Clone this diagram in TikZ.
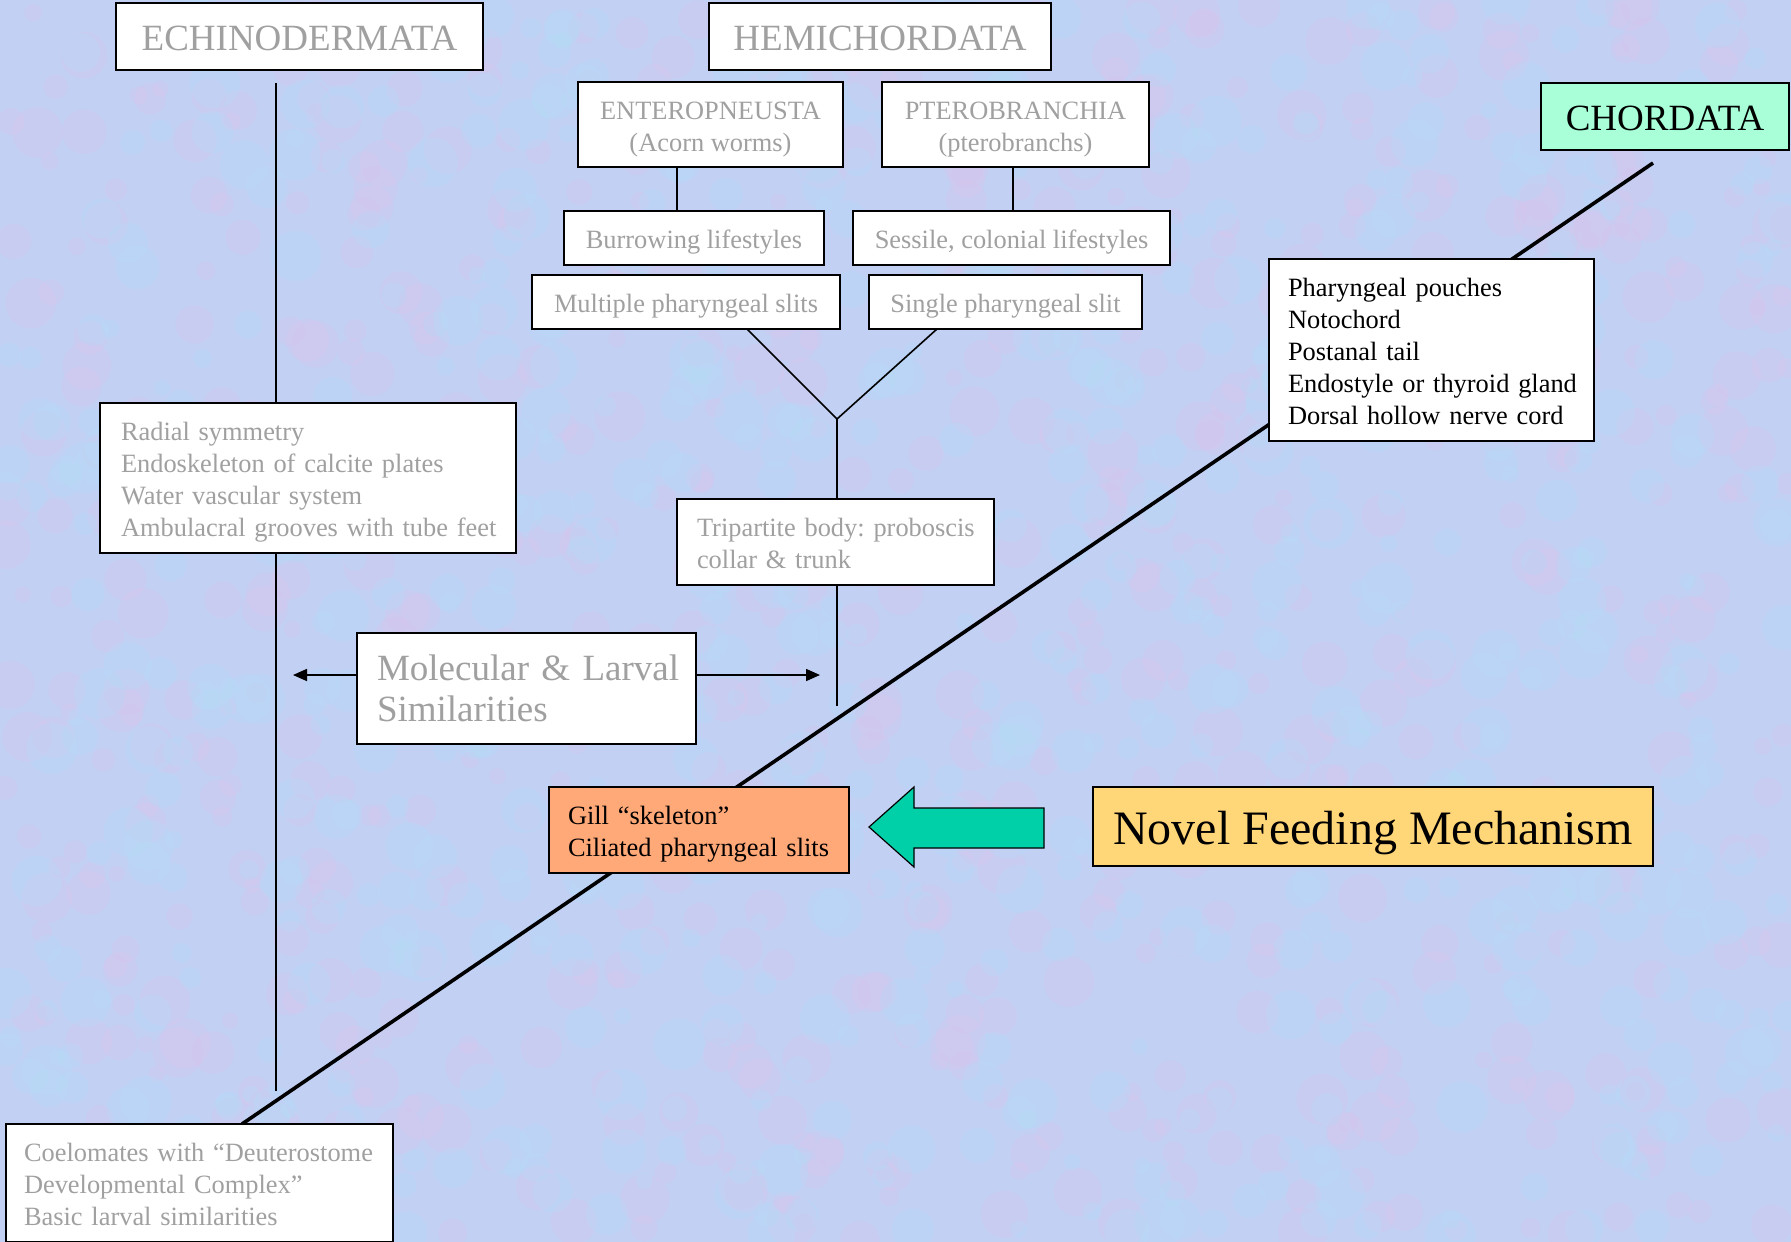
\documentclass[tikz,border=0pt]{standalone}
\usepackage{fontspec}
\setmainfont{Liberation Serif}
\frenchspacing
\usetikzlibrary{arrows.meta,calc}
\definecolor{bgblue}{RGB}{194,208,244}
\definecolor{bgpink}{RGB}{220,196,236}
\definecolor{bgcyan}{RGB}{180,220,248}
\definecolor{txtgray}{RGB}{160,160,160}
\definecolor{mint}{RGB}{168,255,216}
\definecolor{salmon}{RGB}{255,168,120}
\definecolor{sand}{RGB}{255,214,120}
\definecolor{teal}{RGB}{0,208,168}
\begin{document}
\begin{tikzpicture}[x=1pt,y=-1pt,
  box/.style={draw=black,line width=1.5pt,fill=white,inner sep=0pt,outer sep=0pt},
  small/.style={font=\fontsize{26.4}{32}\selectfont\frenchspacing,text height=22pt,text depth=1pt},
  nlines/.style={text depth=1pt+(#1-1)*32pt},
  big/.style={font=\fontsize{37}{42}\selectfont,text height=28pt,text depth=1pt},
  gtxt/.style={text=txtgray},
  cbox/.style={box,align=center},
  lbox/.style={box,align=left},
  conn/.style={draw=black,line width=1.6pt},
  axis/.style={draw=black,line width=3.6pt},
  tip/.style={-{Triangle[length=14pt,width=12pt]}}
]
\useasboundingbox (0,0) rectangle (1791,1242);
\fill[bgblue] (0,0) rectangle (1791,1242);
\begin{scope}
\clip (0,0) rectangle (1791,1242);
\pgfmathsetseed{4242}
\foreach \i in {1,...,700}{
  \pgfmathsetmacro{\px}{rnd*1791}
  \pgfmathsetmacro{\py}{rnd*1242}
  \pgfmathsetmacro{\pr}{8+rnd*18}
  \fill[bgpink,opacity=0.25] (\px,\py) circle[radius=\pr];
}
\foreach \i in {1,...,700}{
  \pgfmathsetmacro{\px}{rnd*1791}
  \pgfmathsetmacro{\py}{rnd*1242}
  \pgfmathsetmacro{\pr}{8+rnd*18}
  \fill[bgcyan,opacity=0.3] (\px,\py) circle[radius=\pr];
}
\end{scope}

% free-end coordinates
\coordinate (echtop) at (276,83);
\coordinate (echbot) at (276,1091);
\coordinate (axbot) at (242,1124);
\coordinate (axtop) at (1653,163);
\coordinate (vjoin) at (837,419);
\coordinate (tribot) at (837,706);
\coordinate (arrL) at (293,675);
\coordinate (arrR) at (820,675);

% main lines (behind boxes)
\draw[conn] (echtop) -- (echbot);
\draw[axis] (axbot) -- (axtop);

% boxes
\node[cbox,big,gtxt,minimum width=367,minimum height=67] (echi) at (299.5,36.5) {ECHINODERMATA};
\node[cbox,big,gtxt,minimum width=342,minimum height=67] (hemi) at (880,36.5) {HEMICHORDATA};
\node[cbox,small,gtxt,text height=54pt,minimum width=265,minimum height=85] (entero) at (710.5,124.5) {ENTEROPNEUSTA\\(Acorn worms)};
\node[cbox,small,gtxt,text height=54pt,minimum width=267,minimum height=85] (ptero) at (1015.5,124.5) {PTEROBRANCHIA\\(pterobranchs)};
\node[cbox,small,gtxt,minimum width=260,minimum height=54] (burrow) at (694,238) {Burrowing lifestyles};
\node[cbox,small,gtxt,minimum width=317,minimum height=54] (sessile) at (1011.5,238) {Sessile, colonial lifestyles};
\node[cbox,small,gtxt,minimum width=308,minimum height=54] (multi) at (686,302) {Multiple pharyngeal slits};
\node[cbox,small,gtxt,minimum width=273,minimum height=54] (single) at (1005.5,302) {Single pharyngeal slit};

\node[lbox,small,nlines=2,gtxt,inner xsep=20pt,text width=277,minimum height=86] (tri) at (835.5,542)
  {\mbox{Tripartite body: proboscis}\\\mbox{collar \& trunk}};
\node[lbox,small,nlines=4,gtxt,inner xsep=21pt,text width=374,minimum height=150] (radial) at (308,478)
  {\mbox{Radial symmetry}\\\mbox{Endoskeleton of calcite plates}\\\mbox{Water vascular system}\\\mbox{Ambulacral grooves with tube feet}};
\node[lbox,gtxt,font=\fontsize{37}{41}\selectfont,inner xsep=20pt,text width=299,minimum height=111] (mol) at (526.5,688.5)
  {\mbox{Molecular \& Larval}\\\mbox{Similarities}};

\node[cbox,big,fill=mint,minimum width=248,minimum height=67] (chord) at (1665,116.5) {CHORDATA};
\node[lbox,small,nlines=5,inner xsep=19pt,text width=287,minimum height=182] (feat) at (1431.5,350)
  {\mbox{Pharyngeal pouches}\\\mbox{Notochord}\\\mbox{Postanal tail}\\\mbox{Endostyle or thyroid gland}\\\mbox{Dorsal hollow nerve cord}};
\node[lbox,small,nlines=2,fill=salmon,inner xsep=19pt,text width=262,minimum height=86] (gill) at (699,830)
  {\mbox{Gill “skeleton”}\\\mbox{Ciliated pharyngeal slits}};
\node[cbox,font=\fontsize{48}{54}\selectfont,text height=38pt,text depth=2pt,fill=sand,minimum width=560,minimum height=79] (novel) at (1373,826.5) {Novel Feeding Mechanism};
\node[lbox,small,nlines=3,gtxt,inner xsep=18pt,text width=351,minimum height=118] (coel) at (199.5,1183)
  {\mbox{Coelomates with “Deuterostome}\\\mbox{Developmental Complex”}\\\mbox{Basic larval similarities}};

% connectors
\draw[conn] ([xshift=-33.5pt]entero.south) -- ([xshift=-33.5pt]entero.south |- burrow.north);
\draw[conn] ([xshift=-2.5pt]ptero.south) -- ([xshift=-2.5pt]ptero.south |- sessile.north);
\draw[conn] ([xshift=61pt]multi.south) -- (vjoin);
\draw[conn] ([xshift=-68.5pt]single.south) -- (vjoin);
\draw[conn] (vjoin) -- (vjoin |- tri.north);
\draw[conn] (tri.south -| tribot) -- (tribot);
\draw[conn,tip] (mol.west |- arrL) -- (arrL);
\draw[conn,tip] (mol.east |- arrR) -- (arrR);

% big teal arrow
\draw[fill=teal,draw=black,line width=1.2pt]
  (869,827) -- (914,787) -- (914,808) -- (1044,808) -- (1044,848) -- (914,848) -- (914,867) -- cycle;
\end{tikzpicture}
\end{document}
